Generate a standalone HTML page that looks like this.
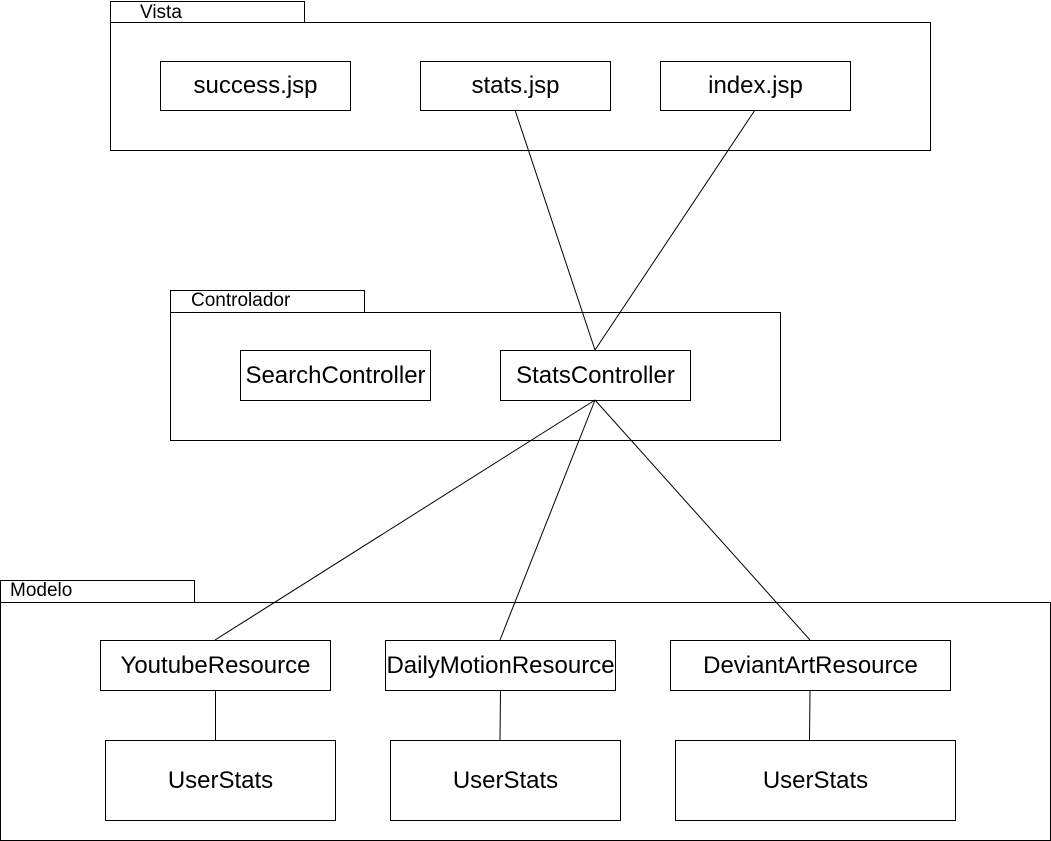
<!DOCTYPE html>
<html><head><meta charset="utf-8"><style>
html,body{margin:0;padding:0;background:#fff;}
svg{display:block;font-family:"Liberation Sans",Arial,sans-serif;}
</style></head><body>
<svg width="1051" height="841" viewBox="0 0 1051 841" xmlns="http://www.w3.org/2000/svg">
<g fill="#fff" stroke="#000" stroke-width="1">
<rect x="110.5" y="1.5" width="194" height="21"/>
<rect x="110.5" y="22.5" width="820" height="128"/>
<rect x="160.5" y="61.5" width="190" height="49"/>
<rect x="420.5" y="61.5" width="190" height="49"/>
<rect x="660.5" y="61.5" width="190" height="49"/>
<rect x="170.5" y="290.5" width="194" height="22"/>
<rect x="170.5" y="312.5" width="610" height="128"/>
<rect x="240.5" y="350.5" width="190" height="50"/>
<rect x="500.5" y="350.5" width="190" height="50"/>
<rect x="0.5" y="580.5" width="194" height="22"/>
<rect x="0.5" y="602.5" width="1050" height="238"/>
<rect x="100.5" y="640.5" width="230" height="50"/>
<rect x="385.5" y="640.5" width="230" height="50"/>
<rect x="670.5" y="640.5" width="280" height="50"/>
<rect x="105.5" y="740.5" width="230" height="80"/>
<rect x="390.5" y="740.5" width="230" height="80"/>
<rect x="675.5" y="740.5" width="280" height="80"/>
</g>
<g stroke="#000" stroke-width="1" fill="none">
<line x1="515" y1="110" x2="595" y2="350"/>
<line x1="755" y1="110" x2="595" y2="350"/>
<line x1="595" y1="400" x2="215" y2="640"/>
<line x1="595" y1="400" x2="500" y2="640"/>
<line x1="595" y1="400" x2="810" y2="640"/>
<line x1="215.5" y1="690" x2="215.5" y2="740"/>
<line x1="500.5" y1="690" x2="500" y2="740"/>
<line x1="810" y1="690" x2="809.5" y2="740"/>
</g>
<g font-size="19" fill="#000">
<text x="140" y="18">Vista</text>
<text x="191" y="306">Controlador</text>
<text x="10" y="596">Modelo</text>
</g>
<g font-size="24" fill="#000" text-anchor="middle">
<text x="255.5" y="93">success.jsp</text>
<text x="515.5" y="93">stats.jsp</text>
<text x="755.5" y="93">index.jsp</text>
<text x="335.5" y="383">SearchController</text>
<text x="595.5" y="383">StatsController</text>
<text x="215.5" y="673">YoutubeResource</text>
<text x="500.5" y="673">DailyMotionResource</text>
<text x="810.5" y="673">DeviantArtResource</text>
<text x="220.5" y="788">UserStats</text>
<text x="505.5" y="788">UserStats</text>
<text x="815.5" y="788">UserStats</text>
</g>
</svg>
</body></html>
